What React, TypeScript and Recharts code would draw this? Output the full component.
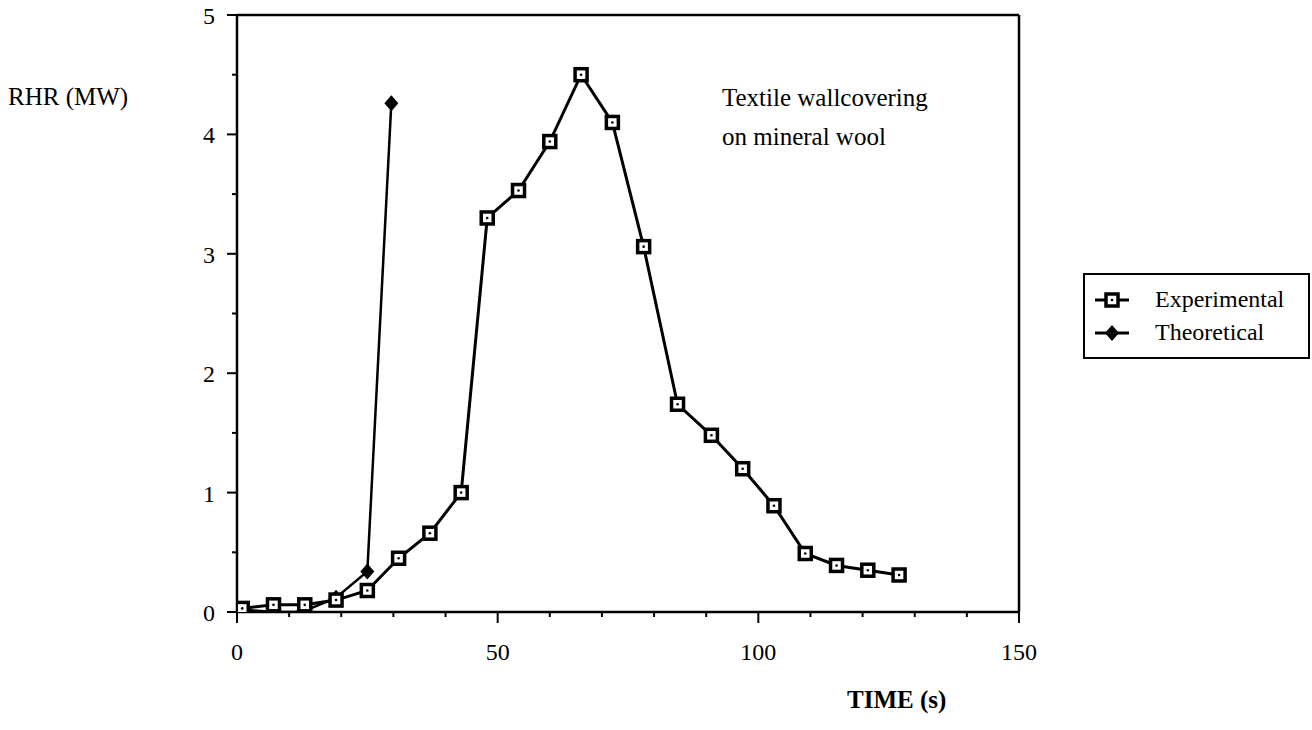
import React from 'react';
import { LineChart, Line, XAxis, YAxis, ReferenceLine, Legend } from 'recharts';

// Experimental RHR curve (time s, MW)
const EXP_TIME = [1, 7, 13, 19, 25, 31, 37, 43, 48, 54, 60, 66, 72, 78, 84.5, 91, 97, 103, 109, 115, 121, 127];
const EXP_RHR = [0.03, 0.06, 0.06, 0.1, 0.18, 0.45, 0.66, 1.0, 3.3, 3.53, 3.94, 4.5, 4.1, 3.06, 1.74, 1.48, 1.2, 0.89, 0.49, 0.39, 0.35, 0.31];

// Theoretical RHR curve
const THEO_TIME = [1, 7, 12.5, 19, 25, 29.6];
const THEO_RHR = [0.02, 0.0, 0.0, 0.12, 0.34, 4.26];

const X_TICKS = [0, 10, 20, 30, 40, 50, 60, 70, 80, 90, 100, 110, 120, 130, 140, 150];
const Y_TICKS = [0, 0.5, 1, 1.5, 2, 2.5, 3, 3.5, 4, 4.5, 5];
const X_LABELS = [0, 50, 100, 150];

const NOTE = ['Textile wallcovering', 'on mineral wool'];

const expData = EXP_TIME.map((t, i) => ({ t, v: EXP_RHR[i] }));
const theoData = THEO_TIME.map((t, i) => ({ t, v: THEO_RHR[i] }));

const FONT = '"Liberation Serif", "Times New Roman", serif';

const SquareDot = (props: any) => {
  const { cx, cy, index } = props;
  if (cx == null || cy == null) return null;
  return (
    <g key={`sq-${index}`}>
      <rect x={cx - 6} y={cy - 6} width={12} height={12} fill="#fff" stroke="#000" strokeWidth={3.5} />
      <circle cx={cx} cy={cy} r={1.3} fill="#000" />
    </g>
  );
};

const DiamondDot = (props: any) => {
  const { cx, cy, index } = props;
  if (cx == null || cy == null) return null;
  return <path key={`dm-${index}`} d={`M${cx},${cy - 8} L${cx + 7},${cy} L${cx},${cy + 8} L${cx - 7},${cy} Z`} fill="#000" />;
};

const XTick = (props: any) => {
  const { x, y, payload } = props;
  const major = X_LABELS.includes(payload.value);
  return (
    <g>
      <line x1={x} y1={y} x2={x} y2={y + (major ? 11 : 5)} stroke="#000" strokeWidth={2} />
      {major && (
        <text x={x} y={y + 40} textAnchor="middle" dominantBaseline="central" fontFamily={FONT} fontSize={24} fill="#000">
          {payload.value}
        </text>
      )}
    </g>
  );
};

const YTick = (props: any) => {
  const { x, y, payload } = props;
  const major = Number.isInteger(payload.value);
  return (
    <g>
      <line x1={x} y1={y} x2={x - (major ? 10 : 5)} y2={y} stroke="#000" strokeWidth={2} />
      {major && (
        <text x={x - 22} y={y + 1} textAnchor="end" dominantBaseline="central" fontFamily={FONT} fontSize={24} fill="#000">
          {payload.value}
        </text>
      )}
    </g>
  );
};

const LegendBox = () => (
  <div
    style={{
      border: '2px solid #000',
      background: '#fff',
      padding: '8px 0 8px 8px',
      fontFamily: FONT,
      fontSize: 24,
      lineHeight: '33px',
      boxSizing: 'border-box',
    }}
  >
    <div style={{ display: 'flex', alignItems: 'center' }}>
      <svg width={40} height={20} style={{ marginRight: 22 }}>
        <line x1={2} y1={10} x2={36} y2={10} stroke="#000" strokeWidth={3} />
        <rect x={13} y={4} width={12} height={12} fill="#fff" stroke="#000" strokeWidth={3.5} />
        <circle cx={19} cy={10} r={1.3} fill="#000" />
      </svg>
      <span>Experimental</span>
    </div>
    <div style={{ display: 'flex', alignItems: 'center' }}>
      <svg width={40} height={20} style={{ marginRight: 22 }}>
        <line x1={2} y1={10} x2={36} y2={10} stroke="#000" strokeWidth={3} />
        <path d="M19,2 L26,10 L19,18 L12,10 Z" fill="#000" />
      </svg>
      <span>Theoretical</span>
    </div>
  </div>
);

export default function App() {
  return (
    <div style={{ position: 'absolute', left: 0, top: 0, width: 1312, height: 730, background: '#fff', fontFamily: FONT }}>
      <LineChart width={1312} height={730} margin={{ top: 15, right: 293, bottom: 58, left: 177 }}>
        <XAxis
          type="number"
          dataKey="t"
          domain={[0, 150]}
          ticks={X_TICKS}
          interval={0}
          height={60}
          tickSize={0}
          tickMargin={0}
          tick={<XTick />}
          axisLine={{ stroke: '#000', strokeWidth: 2.5 }}
          tickLine={false}
          allowDataOverflow
        />
        <YAxis
          type="number"
          dataKey="v"
          domain={[0, 5]}
          ticks={Y_TICKS}
          interval={0}
          width={60}
          tickSize={0}
          tickMargin={0}
          tick={<YTick />}
          axisLine={{ stroke: '#000', strokeWidth: 2.5 }}
          tickLine={false}
          allowDataOverflow
        />
        <ReferenceLine y={5} stroke="#000" strokeWidth={2.5} />
        <ReferenceLine x={150} stroke="#000" strokeWidth={2.5} />
        <Line
          data={theoData}
          dataKey="v"
          name="Theoretical"
          stroke="#000"
          strokeWidth={2.5}
          dot={<DiamondDot />}
          isAnimationActive={false}
        />
        <Line
          data={expData}
          dataKey="v"
          name="Experimental"
          stroke="#000"
          strokeWidth={3}
          dot={<SquareDot />}
          isAnimationActive={false}
        />
        <Legend
          layout="vertical"
          align="center"
          verticalAlign="middle"
          content={() => <LegendBox />}
          wrapperStyle={{ position: 'absolute', left: 1083, top: 273, width: 227 }}
        />
      </LineChart>

      <div style={{ position: 'absolute', left: 8, top: 83, fontSize: 25, lineHeight: '28px', whiteSpace: 'nowrap' }}>RHR (MW)</div>
      <div style={{ position: 'absolute', left: 722, top: 78, fontSize: 25, lineHeight: '39px', whiteSpace: 'nowrap' }}>
        {NOTE.map((s) => (
          <div key={s}>{s}</div>
        ))}
      </div>
      <div style={{ position: 'absolute', left: 847, top: 686, fontSize: 25, fontWeight: 'bold', lineHeight: '28px', whiteSpace: 'nowrap' }}>
        TIME (s)
      </div>
    </div>
  );
}
